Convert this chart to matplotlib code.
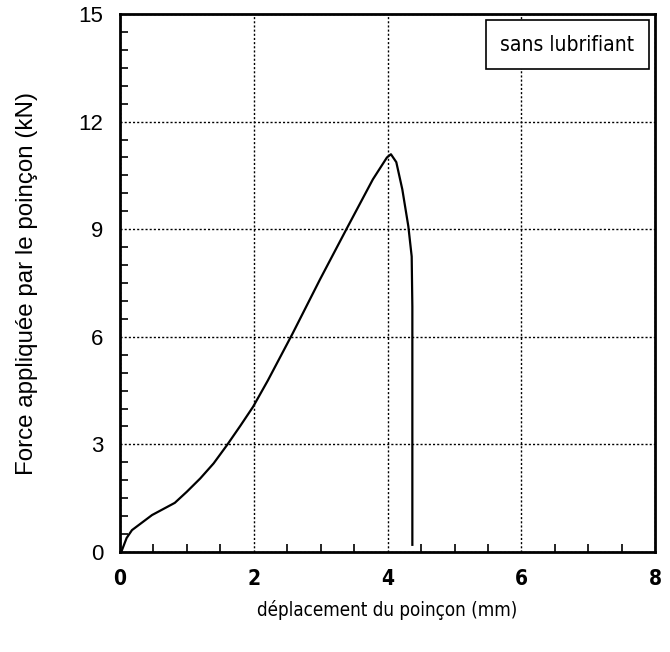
import matplotlib
matplotlib.use('Agg')
import matplotlib.pyplot as plt
from matplotlib.ticker import MultipleLocator

# Courbe force / deplacement
deplacement = [0.02, 0.1, 0.18, 0.48, 0.82, 1.0, 1.2, 1.4, 1.6, 1.8, 1.99, 2.21,
               2.58, 2.99, 3.39, 3.78, 3.99, 4.05, 4.13, 4.22, 4.31,
               4.36, 4.37, 4.37, 4.37]
force = [0.0, 0.39, 0.61, 1.03, 1.37, 1.68, 2.05, 2.47, 2.98, 3.52, 4.05, 4.78,
         6.09, 7.6, 9.02, 10.39, 11.0, 11.09, 10.87, 10.11, 9.08,
         8.24, 6.84, 3.77, 0.2]

x_ticks = [0, 2, 4, 6, 8]
y_ticks = [0, 3, 6, 9, 12, 15]
legend_label = 'sans lubrifiant'

fig = plt.figure(figsize=(6.7, 6.52), dpi=100)
ax = fig.add_axes([0.179, 0.1534, 0.799, 0.8251])

ax.plot(deplacement, force, color='black', linewidth=1.6, label=legend_label)

ax.set_xlim(0, 8)
ax.set_ylim(0, 15)
ax.set_xticks(x_ticks)
ax.set_yticks(y_ticks)
ax.xaxis.set_minor_locator(MultipleLocator(0.5))
ax.yaxis.set_minor_locator(MultipleLocator(0.5))
ax.tick_params(which='both', direction='in', top=False, right=False, width=1.2)
ax.tick_params(which='major', length=0, pad=12)
ax.tick_params(which='minor', length=6)

for lab in ax.get_xticklabels():
    lab.set_family('DejaVu Sans')
    lab.set_stretch('condensed')
    lab.set_weight('bold')
    lab.set_fontsize(15)
for lab in ax.get_yticklabels():
    lab.set_family('Liberation Sans')
    lab.set_fontsize(16)

ax.grid(True, which='major', color='black', linestyle=(0, (1.5, 1.5)), linewidth=1.0)
for sp in ax.spines.values():
    sp.set_linewidth(2.0)

ax.set_xlabel('déplacement du poinçon (mm)', family='DejaVu Sans', stretch='condensed',
              fontsize=13.5, labelpad=8)
ax.set_ylabel('Force appliquée par le poinçon (kN)', family='Liberation Sans',
              fontsize=17.4, labelpad=29)

leg = ax.legend(loc='upper right', handlelength=0, handletextpad=0, fancybox=False,
                edgecolor='black', framealpha=1, borderaxespad=0.3, borderpad=0.7,
                prop={'family': 'DejaVu Sans', 'stretch': 'condensed', 'size': 15})
leg.get_frame().set_linewidth(1.2)
for h in leg.legend_handles:
    h.set_visible(False)

fig.savefig('out.png', dpi=100)
